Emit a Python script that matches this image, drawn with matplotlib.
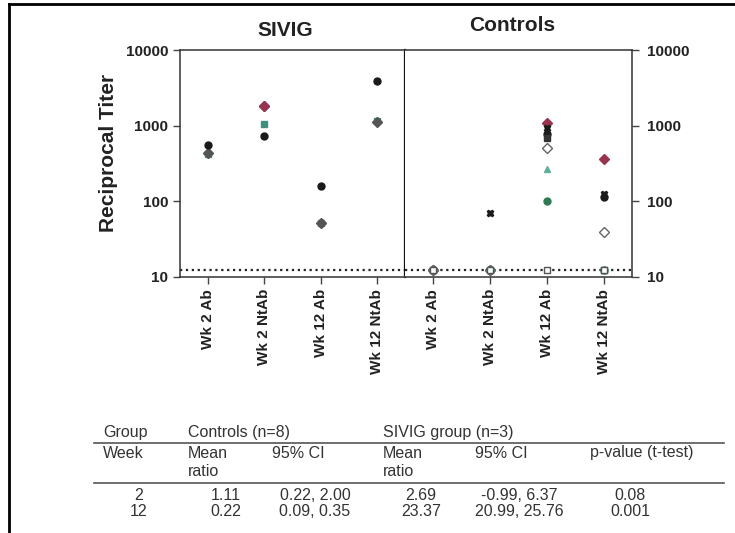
import numpy as np
import matplotlib
matplotlib.use('Agg')
import matplotlib.pyplot as plt
from matplotlib.lines import Line2D

plt.rcParams['font.family'] = ['Liberation Sans', 'DejaVu Sans']

# data
categories = ['Wk 2 Ab', 'Wk 2 NtAb', 'Wk 12 Ab', 'Wk 12 NtAb']
detection_limit = 12.5

# SIVIG animals (n=3), one list per animal across the 4 categories
sivig_1 = [550, 735, 158, 3900]
sivig_2 = [420, 1050, 51, 1150]
sivig_3 = [430, 1820, 51, 1130]

# control animals (n=8)
ctrl_1 = [12.5, 12.5, 1100, 365]
ctrl_2 = [12.5, 71, 945, 125]
ctrl_3 = [12.5, 12.5, 775, 115]
ctrl_4 = [12.5, 12.5, 680, 12.5]
ctrl_5 = [12.5, 12.5, 500, 39]
ctrl_6 = [12.5, 12.5, 270, 12.5]
ctrl_7 = [12.5, 12.5, 100, 12.5]
ctrl_8 = [12.5, 12.5, 12.5, 12.5]

# table
weeks = ['2', '12']
ctrl_mean = ['1.11', '0.22']
ctrl_ci = ['0.22, 2.00', '0.09, 0.35']
sivig_mean = ['2.69', '23.37']
sivig_ci = ['-0.99, 6.37', '20.99, 25.76']
p_values = ['0.08', '0.001']

# styles (drawn in this order: teal, grey, black)
sivig_styles = [('s', '#3f8f80', '#3f8f80'), ('D', '#555555', '#555555'), ('o', '#1a1a1a', '#1a1a1a')]
ctrl_styles = [('D', '#9a3350', '#9a3350'), ('X', '#1a1a1a', '#1a1a1a'), ('o', '#1a1a1a', '#1a1a1a'),
               ('s', '#333333', '#333333'), ('D', 'white', '#666666'), ('^', '#5fae9c', '#5fae9c'),
               ('o', '#2f7a55', '#2f7a55'), ('s', 'white', '#555555')]

W, H = 735, 533
def fx(x):
    return x / W
def fy(y):
    return 1 - y / H

fig = plt.figure(figsize=(7.35, 5.33), dpi=100)
ax1 = fig.add_axes([fx(180), fy(277), (405 - 180) / W, (277 - 50) / H])
ax2 = fig.add_axes([fx(405), fy(277), (632 - 405) / W, (277 - 50) / H])

x = np.arange(len(categories))
for vals, (m, fc, ec) in zip([sivig_2, sivig_3, sivig_1], sivig_styles):
    ax1.plot(x, vals, linestyle='none', marker=m, markersize=5, markerfacecolor=fc,
             markeredgecolor=ec, markeredgewidth=1, zorder=3)
# red mark for the top Wk 2 NtAb point
ax1.plot(x[1], sivig_3[1], linestyle='none', marker='D', markersize=5, color='#9a3350', zorder=4)
for vals, (m, fc, ec) in zip([ctrl_1, ctrl_2, ctrl_3, ctrl_4, ctrl_5, ctrl_6, ctrl_7, ctrl_8], ctrl_styles):
    ax2.plot(x, vals, linestyle='none', marker=m, markersize=5, markerfacecolor=fc,
             markeredgecolor=ec, markeredgewidth=1, zorder=3)

for ax in [ax1, ax2]:
    ax.set_yscale('log')
    ax.set_ylim(10, 10000)
    ax.set_xlim(-0.5, 3.5)
    ax.axhline(detection_limit, color='#222222', linestyle=':', linewidth=1.6, zorder=2)
    ax.set_xticks(x)
    ax.set_xticklabels(categories, rotation=90, fontsize=11, fontweight='bold', color='#222222')
    ax.set_yticks([10, 100, 1000, 10000])
    ax.set_yticklabels(['10', '100', '1000', '10000'], fontsize=11, fontweight='bold', color='#222222')
    ax.minorticks_off()
    ax.tick_params(axis='both', direction='out', length=5, width=1, color='#444444')
    for s in ax.spines.values():
        s.set_color('#333333')
        s.set_linewidth(1.1)

ax1.spines['right'].set_linewidth(1.6)
ax1.spines['right'].set_color('#111111')
ax2.spines['left'].set_visible(False)
ax2.yaxis.tick_right()
ax2.tick_params(axis='y', which='both', left=False, right=True, pad=6)

ax1.set_title('SIVIG', fontsize=15, fontweight='bold', color='#222222', pad=10, x=0.467)
ax2.set_title('Controls', fontsize=15, fontweight='bold', color='#222222', pad=14, x=0.471)
ax1.set_ylabel('Reciprocal Titer', fontsize=15, fontweight='bold', color='#222222')
ax1.yaxis.set_label_coords((118 - 180) / 225, (277 - 153) / 227)

# frame
fig.add_artist(Line2D([fx(9), fx(9)], [fy(4), 0], transform=fig.transFigure, color='black', linewidth=2))
fig.add_artist(Line2D([fx(9), 1], [fy(4), fy(4)], transform=fig.transFigure, color='black', linewidth=2))

# table
tc = '#333333'
fs = 11.5
fig.text(fx(103), fy(433), 'Group', fontsize=fs, color=tc, va='center')
fig.text(fx(188), fy(433), 'Controls (n=8)', fontsize=fs, color=tc, va='center')
fig.text(fx(383), fy(433), 'SIVIG group (n=3)', fontsize=fs, color=tc, va='center')
fig.add_artist(Line2D([fx(94), fx(724)], [fy(443), fy(443)], transform=fig.transFigure, color='#555555', linewidth=1.2))
fig.text(fx(103), fy(453), 'Week', fontsize=fs, color=tc, va='center')
fig.text(fx(188), fy(453), 'Mean', fontsize=fs, color=tc, va='center')
fig.text(fx(188), fy(472), 'ratio', fontsize=fs, color=tc, va='center')
fig.text(fx(272), fy(453), '95% CI', fontsize=fs, color=tc, va='center')
fig.text(fx(383), fy(453), 'Mean', fontsize=fs, color=tc, va='center')
fig.text(fx(383), fy(472), 'ratio', fontsize=fs, color=tc, va='center')
fig.text(fx(475), fy(453), '95% CI', fontsize=fs, color=tc, va='center')
fig.text(fx(590), fy(453), 'p-value (t-test)', fontsize=fs, color=tc, va='center')
fig.add_artist(Line2D([fx(94), fx(724)], [fy(483), fy(483)], transform=fig.transFigure, color='#555555', linewidth=1.2))

row_y = [495, 512]
col_x = [139, 226, 315, 421, 519, 630]
for i in range(len(weeks)):
    row = [weeks[i], ctrl_mean[i], ctrl_ci[i], sivig_mean[i], sivig_ci[i], p_values[i]]
    for cx, txt in zip(col_x, row):
        fig.text(fx(cx), fy(row_y[i]), txt, fontsize=fs, color=tc, ha='center', va='center')

fig.savefig('out.png', dpi=100)
